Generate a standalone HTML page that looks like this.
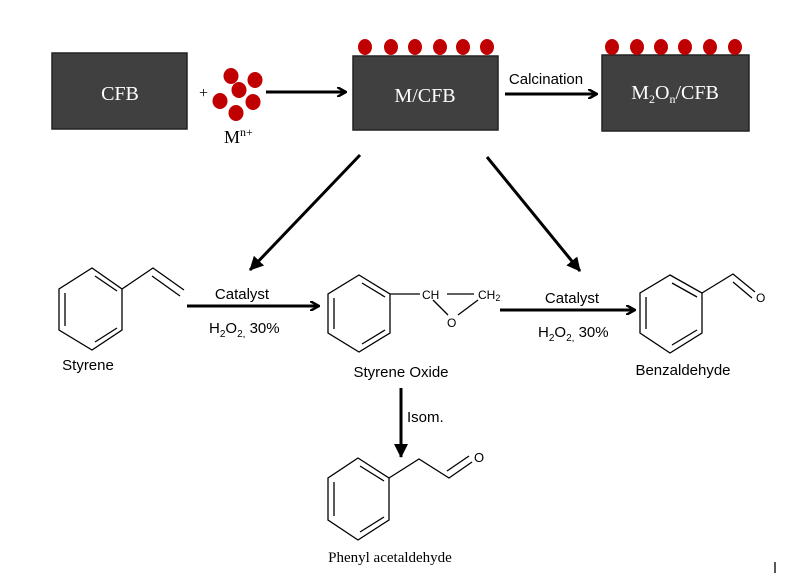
<!DOCTYPE html>
<html><head><meta charset="utf-8"><style>html,body{margin:0;padding:0;background:#fff}svg{display:block}</style></head><body>
<svg width="800" height="586" viewBox="0 0 800 586" xmlns="http://www.w3.org/2000/svg">
<defs>
<marker id="ah" markerWidth="10" markerHeight="10" refX="8" refY="5" orient="auto" markerUnits="userSpaceOnUse">
<path d="M0,0 L9,5 L0,10" fill="none" stroke="#000" stroke-width="2.5"/>
</marker>
<marker id="af" markerWidth="16" markerHeight="16" refX="13" refY="8" orient="auto" markerUnits="userSpaceOnUse">
<path d="M0,1 L14,8 L0,15 Z" fill="#000"/>
</marker>
</defs>
<g font-family="Liberation Serif, serif" fill="#fff">
<rect x="52" y="53" width="135" height="76" fill="#404040" stroke="#222" stroke-width="1.5"/>
<text x="120" y="100" font-size="20" text-anchor="middle">CFB</text>
<rect x="353" y="56" width="145" height="74" fill="#404040" stroke="#222" stroke-width="1.5"/>
<text x="425" y="102" font-size="20" text-anchor="middle">M/CFB</text>
<rect x="602" y="55" width="147" height="76" fill="#404040" stroke="#222" stroke-width="1.5"/>
<text x="675" y="99" font-size="20" text-anchor="middle">M<tspan font-size="12" dy="4">2</tspan><tspan dy="-4">O</tspan><tspan font-size="12" dy="4">n</tspan><tspan dy="-4">/CFB</tspan></text>
</g>
<g fill="#c00000">
<ellipse cx="365" cy="47" rx="7" ry="8"/><ellipse cx="391" cy="47" rx="7" ry="8"/><ellipse cx="415" cy="47" rx="7" ry="8"/><ellipse cx="440" cy="47" rx="7" ry="8"/><ellipse cx="463" cy="47" rx="7" ry="8"/><ellipse cx="487" cy="47" rx="7" ry="8"/>
<ellipse cx="612" cy="47" rx="7" ry="8"/><ellipse cx="637" cy="47" rx="7" ry="8"/><ellipse cx="661" cy="47" rx="7" ry="8"/><ellipse cx="685" cy="47" rx="7" ry="8"/><ellipse cx="710" cy="47" rx="7" ry="8"/><ellipse cx="735" cy="47" rx="7" ry="8"/>
<ellipse cx="231" cy="76" rx="7.5" ry="8"/><ellipse cx="255" cy="80" rx="7.5" ry="8"/><ellipse cx="239" cy="90" rx="7.5" ry="8"/><ellipse cx="220" cy="101" rx="7.5" ry="8"/><ellipse cx="253" cy="102" rx="7.5" ry="8"/><ellipse cx="236" cy="113" rx="7.5" ry="8"/>
</g>
<g font-family="Liberation Serif, serif" fill="#000">
<text x="199" y="98" font-size="16">+</text>
<text x="224" y="143" font-size="18">M<tspan font-size="12" dy="-7">n+</tspan></text>
<text x="390" y="562" font-size="15" text-anchor="middle">Phenyl acetaldehyde</text>
</g>
<g stroke="#000" stroke-width="3" fill="none">
<line x1="266" y1="92" x2="345" y2="92" marker-end="url(#ah)"/>
<line x1="505" y1="94" x2="596" y2="94" marker-end="url(#ah)"/>
<line x1="187" y1="306" x2="318" y2="306" marker-end="url(#ah)"/>
<line x1="500" y1="310" x2="634" y2="310" marker-end="url(#ah)"/>
<line x1="360" y1="155" x2="250" y2="270" marker-end="url(#af)"/>
<line x1="487" y1="157" x2="580" y2="271" marker-end="url(#af)"/>
<line x1="401" y1="388" x2="401" y2="457" marker-end="url(#af)"/>
</g>
<g font-family="Liberation Sans, sans-serif" font-size="15" fill="#000">
<text x="546" y="84" text-anchor="middle">Calcination</text>
<text x="242" y="299" text-anchor="middle">Catalyst</text>
<text x="209" y="333">H<tspan font-size="10" dy="4">2</tspan><tspan dy="-4">O</tspan><tspan font-size="10" dy="4">2,</tspan><tspan dy="-4"> 30%</tspan></text>
<text x="572" y="303" text-anchor="middle">Catalyst</text>
<text x="538" y="337">H<tspan font-size="10" dy="4">2</tspan><tspan dy="-4">O</tspan><tspan font-size="10" dy="4">2,</tspan><tspan dy="-4"> 30%</tspan></text>
<text x="88" y="370" text-anchor="middle">Styrene</text>
<text x="401" y="377" text-anchor="middle">Styrene Oxide</text>
<text x="683" y="375" text-anchor="middle">Benzaldehyde</text>
<text x="407" y="422">Isom.</text>
<text x="422" y="299" font-size="12">CH</text>
<text x="478" y="299" font-size="12">CH<tspan font-size="9" dy="2">2</tspan></text>
<text x="447" y="327" font-size="12">O</text>
<text x="756" y="302" font-size="12">O</text>
<text x="474" y="462" font-size="13">O</text>
</g>
<g stroke="#000" stroke-width="1.3" fill="none">
<!-- styrene -->
<polygon points="92,268 122,289 122,330 92,350 59,330 59,289"/>
<line x1="95" y1="276" x2="117" y2="291"/><line x1="117" y1="328" x2="95" y2="342"/><line x1="65" y1="293" x2="65" y2="326"/>
<polyline points="122,289 153,268 184,290"/><line x1="152" y1="276" x2="180" y2="296"/>
<!-- styrene oxide -->
<polygon points="359,275 390,294 390,333 359,352 328,333 328,294"/>
<line x1="362" y1="283" x2="385" y2="297"/><line x1="385" y1="330" x2="362" y2="344"/><line x1="334" y1="298" x2="334" y2="329"/>
<line x1="390" y1="294" x2="420" y2="294"/><line x1="447" y1="294" x2="474" y2="294"/>
<line x1="433" y1="300" x2="448" y2="315"/><line x1="458" y1="315" x2="478" y2="300"/>
<!-- benzaldehyde -->
<polygon points="670,275 702,293 702,333 670,353 640,333 640,293"/>
<line x1="672" y1="283" x2="697" y2="297"/><line x1="697" y1="330" x2="672" y2="345"/><line x1="646" y1="297" x2="646" y2="329"/>
<polyline points="702,293 733,274 755,292"/><line x1="733" y1="282" x2="752" y2="298"/>
<!-- phenylacetaldehyde -->
<polygon points="358,458 389,478 389,520 358,540 328,520 328,478"/>
<line x1="360" y1="466" x2="384" y2="481"/><line x1="384" y1="517" x2="360" y2="532"/><line x1="334" y1="482" x2="334" y2="516"/>
<polyline points="389,478 419,459 449,478 472,462"/><line x1="447" y1="471" x2="469" y2="456"/>
<line x1="775" y1="562" x2="775" y2="573"/>
</g>
</svg>
</body></html>
